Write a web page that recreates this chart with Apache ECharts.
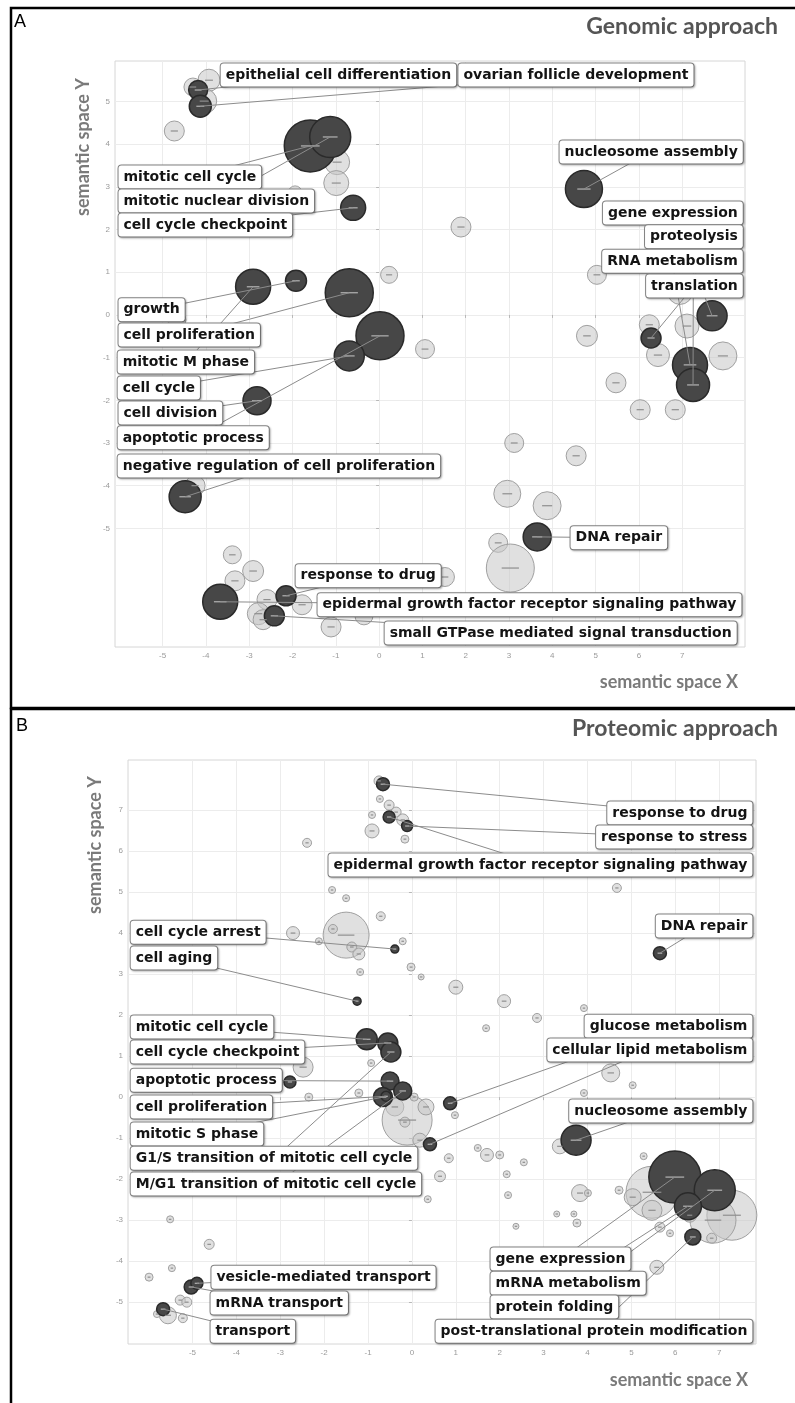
<!DOCTYPE html>
<html>
<head>
<meta charset="utf-8">
<script src="https://cdn.jsdelivr.net/npm/echarts@6/dist/echarts.min.js"></script>
<style>
  html, body { margin: 0; padding: 0; background: #fff; }
  #chart { width: 795px; height: 1403px; }
</style>
</head>
<body>
<div id="chart"></div>
<script>
// ---------- A: Genomic approach (GO terms in semantic space) ----------
const genomicX = [-3.93, -4.30, -4.18, -4.04, -4.13, -4.73, -1.59, -1.13, -0.97, -0.99,
  -0.60, -1.94, -2.91, -1.92, -0.69, 0.23, -4.67, 0.02, -0.69, -2.82,
  -4.25, -4.48, -3.39, -2.91, -3.33, -3.67, -2.59, -2.15, -1.78, -2.79,
  -2.68, -2.42, -1.11, -0.35, 1.06, 4.80, 6.44, 7.18, 7.94, 7.25,
  5.47, 6.03, 6.84, 3.12, 4.55, 2.96, 3.88, 3.65, 2.75, 3.03,
  1.52, 4.73, 1.89, 5.03, 6.24, 6.28, 7.11, 7.69, 6.95];
const genomicY = [5.50, 5.34, 5.27, 5.01, 4.89, 4.31, 3.96, 4.17, 3.58, 3.09,
  2.51, 2.86, 0.66, 0.80, 0.52, 0.94, -0.12, -0.49, -0.96, -2.01,
  -4.00, -4.26, -5.62, -6.00, -6.23, -6.72, -6.67, -6.58, -6.79, -7.00,
  -7.14, -7.05, -7.31, -7.05, -0.80, -0.49, -0.94, -1.17, -0.96, -1.64,
  -1.59, -2.22, -2.22, -3.00, -3.30, -4.19, -4.47, -5.20, -5.34, -5.93,
  -6.14, 2.95, 2.06, 0.94, -0.23, -0.54, -0.26, -0.02, 0.54];
const genomicLogSize = [2.2, 1.8, 1.9, 2.5, 2.2, 2.0, 5.2, 4.1, 2.5, 2.5,
  2.5, 1.4, 3.5, 2.1, 4.8, 1.7, 1.8, 4.8, 3.0, 2.8,
  2.0, 3.2, 1.8, 2.1, 2.0, 3.5, 2.0, 2.0, 2.0, 2.2,
  2.0, 2.0, 2.0, 1.8, 1.9, 2.1, 2.3, 3.5, 2.8, 3.3,
  2.0, 2.0, 2.0, 1.9, 2.0, 2.7, 2.8, 2.8, 1.9, 4.8,
  1.9, 3.7, 2.0, 1.9, 2.0, 2.0, 2.4, 3.0, 2.5];
// 1 = term enriched in the set (dark), 0 = related term (light)
const genomicDark = [0, 0, 1, 0, 1, 0, 1, 1, 0, 0,
  1, 0, 1, 1, 1, 0, 0, 1, 1, 1,
  0, 1, 0, 0, 0, 1, 0, 1, 0, 0,
  0, 1, 0, 0, 0, 0, 0, 1, 0, 1,
  0, 0, 0, 0, 0, 0, 0, 1, 0, 0,
  0, 1, 0, 0, 0, 1, 0, 1, 0];
const genomicTerms = ['epithelial cell differentiation', 'ovarian follicle development',
  'mitotic cell cycle', 'mitotic nuclear division', 'cell cycle checkpoint',
  'growth', 'cell proliferation', 'mitotic M phase', 'cell cycle', 'cell division',
  'apoptotic process', 'negative regulation of cell proliferation',
  'nucleosome assembly', 'gene expression', 'proteolysis', 'RNA metabolism', 'translation',
  'DNA repair', 'response to drug', 'epidermal growth factor receptor signaling pathway',
  'small GTPase mediated signal transduction'];
const genomicTermPoint = [2, 4, 6, 7, 10, 13, 14, 12, 18, 19, 17, 21, 51, 57, 39, 37, 55, 47, 27, 25, 31];
// label box anchor in axis units: [x, y, side] (L = box starts at x, R = box ends at x)
const genomicLabelLayout = [[-3.67, 5.62, 'L'], [1.82, 5.62, 'L'],
  [-6.03, 3.23, 'L'], [-6.03, 2.67, 'L'], [-6.03, 2.11, 'L'],
  [-6.03, 0.12, 'L'], [-6.03, -0.47, 'L'], [-6.05, -1.10, 'L'], [-6.05, -1.71, 'L'], [-6.03, -2.30, 'L'],
  [-6.05, -2.88, 'L'], [-6.05, -3.54, 'L'],
  [8.41, 3.82, 'R'], [8.41, 2.39, 'R'], [8.41, 1.83, 'R'], [8.41, 1.26, 'R'], [8.41, 0.68, 'R'],
  [4.41, -5.22, 'L'], [-1.94, -6.11, 'L'], [8.38, -6.79, 'R'], [8.27, -7.45, 'R']];

// ---------- B: Proteomic approach ----------
const proteomicX = [-0.75, -0.66, -0.73, -0.52, -0.36, -0.52, -0.21, -0.11, -0.91, -0.91,
  -0.16, -2.39, -1.82, -1.50, -0.71, -2.71, -1.50, -1.80, -2.12, -1.37,
  -1.21, -0.39, -0.21, -1.18, -1.25, -0.02, 0.21, 1.00, 2.10, 2.85,
  3.92, 1.69, 4.67, 5.65, -1.03, -0.55, -0.48, -2.48, -0.93, -2.78,
  -2.35, -1.21, -0.50, -0.21, -0.66, -0.59, -0.39, -0.11, 0.32, -0.16,
  0.18, 0.41, 0.05, 0.87, 0.98, -5.51, -4.62, -5.47, -5.99, -5.03,
  -4.90, -5.28, -5.13, -5.22, -5.67, -5.56, -5.81, 4.53, 5.03, 3.92,
  3.74, 3.37, 5.28, 1.50, 1.71, 2.00, 2.55, 0.84, 0.64, 0.36,
  2.16, 2.19, 3.83, 4.01, 3.30, 3.69, 3.76, 2.37, 4.72, 5.47,
  5.03, 5.47, 5.65, 5.99, 6.90, 6.29, 7.29, 6.86, 6.40, 6.33,
  6.83, 5.88, 5.58];
const proteomicY = [7.71, 7.63, 7.27, 7.12, 6.95, 6.83, 6.76, 6.61, 6.88, 6.49,
  6.29, 6.20, 5.05, 4.85, 4.41, 4.00, 3.95, 4.10, 3.80, 3.66,
  3.49, 3.61, 3.80, 3.05, 2.34, 3.17, 2.93, 2.68, 2.34, 1.93,
  2.17, 1.68, 5.10, 3.51, 1.41, 1.32, 1.10, 0.73, 0.83, 0.37,
  0.00, 0.10, 0.39, 0.15, 0.00, 0.02, -0.24, -0.56, -0.24, -0.61,
  -1.05, -1.15, 0.00, -0.15, -0.44, -2.98, -3.59, -4.17, -4.39, -4.63,
  -4.54, -4.95, -5.00, -5.39, -5.17, -5.32, -5.29, 0.59, 0.29, 0.10,
  -1.05, -1.20, -1.44, -1.24, -1.41, -1.41, -1.59, -1.49, -1.93, -2.49,
  -1.88, -2.39, -2.34, -2.34, -2.85, -2.85, -3.07, -3.15, -2.27, -2.32,
  -2.44, -2.76, -3.17, -1.95, -2.27, -2.66, -2.88, -3.00, -3.41, -2.88,
  -3.44, -3.32, -4.15];
const proteomicLogSize = [1.0, 1.3, 0.7, 1.0, 1.0, 1.2, 1.2, 1.1, 0.7, 1.4,
  0.8, 0.9, 0.7, 0.7, 0.9, 1.3, 4.6, 0.9, 0.7, 1.0,
  1.2, 0.8, 0.7, 0.7, 0.8, 0.8, 0.6, 1.4, 1.3, 0.9,
  0.7, 0.7, 0.9, 1.3, 2.1, 2.0, 2.0, 2.0, 0.7, 1.2,
  0.8, 0.8, 1.8, 1.8, 1.9, 1.0, 1.8, 5.0, 1.6, 1.0,
  1.4, 1.3, 0.8, 1.3, 0.7, 0.7, 1.0, 0.7, 0.8, 1.4,
  1.2, 1.0, 1.0, 0.9, 1.3, 1.7, 0.7, 1.8, 0.7, 0.7,
  3.0, 1.5, 0.7, 0.7, 1.3, 0.8, 0.7, 0.9, 1.1, 0.7,
  0.7, 0.7, 1.7, 0.7, 0.6, 0.6, 0.8, 0.6, 0.8, 5.2,
  1.7, 2.0, 1.0, 5.2, 4.1, 2.7, 5.0, 4.6, 1.6, 1.4,
  1.0, 0.7, 1.4];
const proteomicDark = [0, 1, 0, 0, 0, 1, 0, 1, 0, 0,
  0, 0, 0, 0, 0, 0, 0, 0, 0, 0,
  0, 1, 0, 0, 1, 0, 0, 0, 0, 0,
  0, 0, 0, 1, 1, 1, 1, 0, 0, 1,
  0, 0, 1, 1, 1, 1, 0, 0, 0, 0,
  0, 1, 0, 1, 0, 0, 0, 0, 0, 1,
  1, 0, 0, 0, 1, 0, 0, 0, 0, 0,
  1, 0, 0, 0, 0, 0, 0, 0, 0, 0,
  0, 0, 0, 0, 0, 0, 0, 0, 0, 0,
  0, 0, 0, 1, 1, 1, 0, 0, 1, 0,
  0, 0, 0];
const proteomicTerms = ['response to drug', 'response to stress',
  'epidermal growth factor receptor signaling pathway', 'DNA repair',
  'cell cycle arrest', 'cell aging', 'mitotic cell cycle', 'cell cycle checkpoint',
  'apoptotic process', 'cell proliferation', 'mitotic S phase',
  'G1/S transition of mitotic cell cycle', 'M/G1 transition of mitotic cell cycle',
  'glucose metabolism', 'cellular lipid metabolism', 'nucleosome assembly',
  'gene expression', 'mRNA metabolism', 'protein folding', 'post-translational protein modification',
  'vesicle-mediated transport', 'mRNA transport', 'transport'];
const proteomicTermPoint = [1, 7, 5, 33, 21, 24, 34, 35, 42, 45, 44, 36, 43, 53, 51, 70, 93, 95, 94, 98, 60, 59, 64];
const proteomicLabelLayout = [[7.77, 6.93, 'R'], [7.77, 6.34, 'R'], [7.77, 5.66, 'R'], [7.77, 4.17, 'R'],
  [-6.42, 4.02, 'L'], [-6.42, 3.39, 'L'], [-6.42, 1.71, 'L'], [-6.42, 1.10, 'L'],
  [-6.42, 0.41, 'L'], [-6.42, -0.24, 'L'], [-6.42, -0.90, 'L'], [-6.42, -1.49, 'L'], [-6.42, -2.12, 'L'],
  [7.77, 1.73, 'R'], [7.77, 1.15, 'R'], [7.77, -0.34, 'R'],
  [1.78, -3.95, 'L'], [1.78, -4.54, 'L'], [1.78, -5.12, 'L'], [7.77, -5.71, 'R'],
  [-4.58, -4.39, 'L'], [-4.60, -5.02, 'L'], [-4.60, -5.71, 'L']];

const axisTicks = [-5, -4, -3, -2, -1, 0, 1, 2, 3, 4, 5, 6, 7];

// plot frames and axis extents of the two panels
const panels = [
  { grid: { left: 115, top: 61, width: 630, height: 586 }, x: [-6.1, 8.45], y: [-7.78, 5.95],
    X: genomicX, Y: genomicY, S: genomicLogSize, D: genomicDark,
    terms: genomicTerms, point: genomicTermPoint, layout: genomicLabelLayout },
  { grid: { left: 128, top: 760, width: 628, height: 584 }, x: [-6.47, 7.84], y: [-6.02, 8.22],
    X: proteomicX, Y: proteomicY, S: proteomicLogSize, D: proteomicDark,
    terms: proteomicTerms, point: proteomicTermPoint, layout: proteomicLabelLayout }
];

const LABEL_FONT = 'bold 14px "DejaVu Sans"';
const PAD = [5, 5, 4, 5];
const measure = document.createElement('canvas').getContext('2d');
measure.font = LABEL_FONT;

const diameter = s => s * 10;

const grids = [], xAxes = [], yAxes = [], series = [];

panels.forEach((p, k) => {
  grids.push(Object.assign({ show: true, borderColor: '#d6d6d6', borderWidth: 1, backgroundColor: '#fff' }, p.grid));
  const tickStyle = {
    axisLine: { show: false },
    axisTick: { show: true, length: 3, lineStyle: { color: '#b8b8b8' }, customValues: axisTicks },
    axisLabel: { customValues: axisTicks, fontSize: 8, color: '#9a9a9a', fontFamily: 'Liberation Sans', margin: 5 },
    splitLine: { show: true, lineStyle: { color: '#ececec', width: 1 } }
  };
  xAxes.push(Object.assign({ gridIndex: k, type: 'value', min: p.x[0], max: p.x[1] }, tickStyle));
  yAxes.push(Object.assign({ gridIndex: k, type: 'value', min: p.y[0], max: p.y[1] }, tickStyle));

  const pts = p.X.map((x, i) => [x, p.Y[i], p.S[i], p.D[i]]);
  const light = pts.filter(d => d[3] === 0);
  const dark = pts.filter(d => d[3] === 1);

  series.push({
    type: 'scatter', xAxisIndex: k, yAxisIndex: k, silent: true, z: 2,
    data: light, symbolSize: v => diameter(v[2]),
    itemStyle: { color: 'rgba(198,198,198,0.55)', borderColor: '#a0a0a0', borderWidth: 1, opacity: 1 }
  });
  series.push({
    type: 'scatter', xAxisIndex: k, yAxisIndex: k, silent: true, z: 3,
    data: dark, symbolSize: v => diameter(v[2]),
    itemStyle: { color: '#474747', borderColor: '#2a2a2a', borderWidth: 1.5, opacity: 1 }
  });
  // the little centre dash of every bubble
  series.push({
    type: 'scatter', xAxisIndex: k, yAxisIndex: k, silent: true, z: 4,
    data: pts, symbol: 'rect',
    symbolSize: v => [Math.max(2.5, diameter(v[2]) * 0.36), 1.2],
    itemStyle: { color: p => (p.value[3] ? '#b4b4b4' : '#8e8e8e'), opacity: 1 }
  });

  // leader lines from each labelled term to the middle of its label box
  const unitsPerPx = (p.x[1] - p.x[0]) / p.grid.width;
  const lines = p.terms.map((t, j) => {
    const b = pts[p.point[j]];
    const a = p.layout[j];
    const boxW = measure.measureText(t).width + PAD[1] + PAD[3] + 2;
    const cx = a[2] === 'L' ? a[0] + boxW / 2 * unitsPerPx : a[0] - boxW / 2 * unitsPerPx;
    return { coords: [[b[0], b[1]], [cx, a[1]]] };
  });
  series.push({
    type: 'lines', coordinateSystem: 'cartesian2d', xAxisIndex: k, yAxisIndex: k, silent: true, z: 5,
    data: lines, symbol: 'none',
    lineStyle: { color: '#8c8c8c', width: 1, opacity: 1, curveness: 0 }
  });

  series.push({
    type: 'scatter', xAxisIndex: k, yAxisIndex: k, silent: true, z: 6,
    symbolSize: 1, itemStyle: { color: 'rgba(255,255,255,0)' },
    data: p.terms.map((t, j) => ({
      name: t, value: [p.layout[j][0], p.layout[j][1]],
      label: { position: p.layout[j][2] === 'L' ? 'right' : 'left' }
    })),
    label: {
      show: true, formatter: '{b}', distance: 0, opacity: 1,
      fontFamily: 'DejaVu Sans', fontWeight: 'bold', fontSize: 14, color: '#141414',
      backgroundColor: '#ffffff', borderColor: '#858585', borderWidth: 1, borderRadius: 3,
      padding: PAD, shadowColor: 'rgba(0,0,0,0.25)', shadowBlur: 2, shadowOffsetX: 1, shadowOffsetY: 1
    },
    labelLayout: { hideOverlap: false }
  });
});

const titleFont = { fontFamily: 'Lato', fontWeight: 'bold', fontSize: 23, fill: '#555' };
const axisTitleFont = { fontFamily: 'Lato', fontWeight: 'bold', fontSize: 18, fill: '#7a7a7a' };

const graphic = [
  // panel frames
  { type: 'rect', shape: { x: 11, y: 8, width: 800, height: 700 }, style: { fill: 'none', stroke: '#000', lineWidth: 2.5 }, z: 10 },
  { type: 'rect', shape: { x: 11, y: 709, width: 800, height: 720 }, style: { fill: 'none', stroke: '#000', lineWidth: 2.5 }, z: 10 },
  { type: 'text', left: 14, top: 13, style: { text: 'A', font: '18px "Liberation Sans"', fill: '#000' } },
  { type: 'text', left: 16, top: 717, style: { text: 'B', font: '18px "Liberation Sans"', fill: '#000' } },
  { type: 'text', x: 778, y: 27, style: Object.assign({ text: 'Genomic approach', textAlign: 'right', textVerticalAlign: 'middle' }, titleFont) },
  { type: 'text', x: 778, y: 729, style: Object.assign({ text: 'Proteomic approach', textAlign: 'right', textVerticalAlign: 'middle' }, titleFont) },
  { type: 'text', x: 738, y: 682, style: Object.assign({ text: 'semantic space X', textAlign: 'right', textVerticalAlign: 'middle' }, axisTitleFont) },
  { type: 'text', x: 748, y: 1380, style: Object.assign({ text: 'semantic space X', textAlign: 'right', textVerticalAlign: 'middle' }, axisTitleFont) },
  { type: 'text', x: 83, y: 147, rotation: Math.PI / 2, style: Object.assign({ text: 'semantic space Y', textAlign: 'center', textVerticalAlign: 'middle' }, axisTitleFont) },
  { type: 'text', x: 95, y: 845, rotation: Math.PI / 2, style: Object.assign({ text: 'semantic space Y', textAlign: 'center', textVerticalAlign: 'middle' }, axisTitleFont) }
];

const chart = echarts.init(document.getElementById('chart'), null, { renderer: 'canvas' });
chart.setOption({
  animation: false,
  backgroundColor: '#fff',
  grid: grids, xAxis: xAxes, yAxis: yAxes,
  series: series,
  graphic: graphic
});
</script>
</body>
</html>
